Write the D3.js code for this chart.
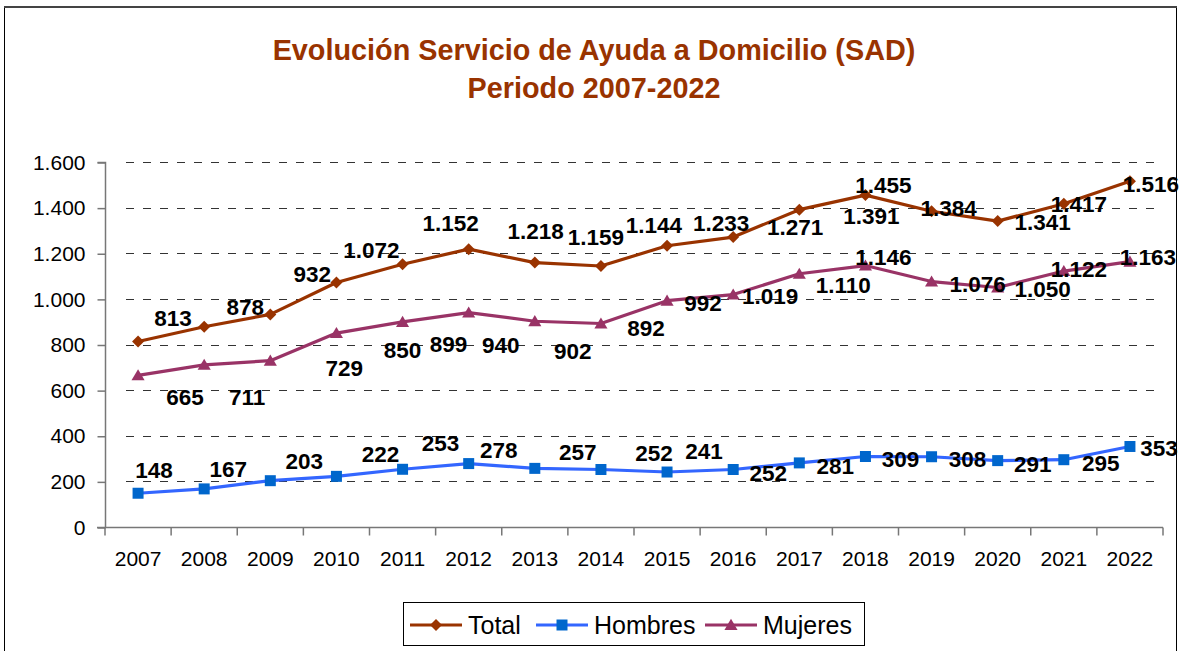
<!DOCTYPE html>
<html>
<head>
<meta charset="utf-8">
<script src="https://cdn.jsdelivr.net/npm/d3@7/dist/d3.min.js"></script>
<style>
  html, body { margin: 0; padding: 0; background: #fff; }
  svg { display: block; font-family: "Liberation Sans", Arial, sans-serif; }
</style>
</head>
<body>
<svg id="chart" width="1179" height="651"></svg>
<script>
// ---- Data ----
const years = ["2007","2008","2009","2010","2011","2012","2013","2014","2015","2016","2017","2018","2019","2020","2021","2022"];
const total   = [813, 878, 932, 1072, 1152, 1218, 1159, 1144, 1233, 1271, 1391, 1455, 1384, 1341, 1417, 1516];
const hombres = [148, 167, 203, 222, 253, 278, 257, 252, 241, 252, 281, 309, 308, 291, 295, 353];
const mujeres = [665, 711, 729, 850, 899, 940, 902, 892, 992, 1019, 1110, 1146, 1076, 1050, 1122, 1163];
const yTicks  = [0, 200, 400, 600, 800, 1000, 1200, 1400, 1600];
const seriesNames = ["Total", "Hombres", "Mujeres"];
const titleLines = ["Evolución Servicio de Ayuda a Domicilio (SAD)", "Periodo 2007-2022"];

// label nudges (pixels, relative to the point) as placed in the original
const totalNudge   = [[35,-24],[41,-20],[42,-40],[35,-33],[48,-41],[67,-18],[61,-26],[53,-41],[54,-23],[62,-10],[72,6],[18,-10],[17,-3],[45,1],[15,0],[21,3]];
const hombresNudge = [[16,-23],[24,-20],[34,-20],[44,-22],[38,-26],[30,-14],[43,-16],[53,-17],[37,-21],[35,3],[36,3],[35,2],[36,2],[35,3],[37,3],[29,1]];
const mujeresNudge = [[47,22],[43,32],[74,7],[66,17],[46,22],[32,32],[38,30],[45,4],[36,2],[37,1],[44,11],[18,-9],[46,2],[45,1],[15,-2],[18,-5]];

// ---- Setup ----
const svg = d3.select("#chart");
const fmt = v => d3.format(",")(v).replace(/,/g, ".");

const x = d3.scaleBand().domain(years).range([105, 1163]).padding(0);
const y = d3.scaleLinear().domain([0, 1600]).range([527, 162]);
const cx = d => x(d) + x.bandwidth() / 2;

// outer frame
svg.append("rect").attr("x", 4.5).attr("y", 7.5).attr("width", 1172).attr("height", 660)
  .attr("fill", "none").attr("stroke", "#000").attr("stroke-width", 1);
svg.append("line").attr("x1", 4).attr("x2", 1177).attr("y1", 7).attr("y2", 7)
  .attr("stroke", "#444").attr("stroke-width", 2);

// title
svg.append("g").selectAll("text").data(titleLines).join("text")
  .attr("x", 594).attr("y", (d, i) => 50 + i * 38).attr("dy", "0.35em")
  .attr("text-anchor", "middle").attr("font-weight", "bold").attr("font-size", 28.8)
  .attr("fill", "#993300").text(d => d);

// gridlines
svg.append("g").selectAll("line").data(yTicks.filter(t => t > 0)).join("line")
  .attr("x1", 126).attr("x2", 1162)
  .attr("y1", d => Math.round(y(d)) + 0.5).attr("y2", d => Math.round(y(d)) + 0.5)
  .attr("stroke", "#333").attr("stroke-width", 1).attr("stroke-dasharray", "8,9");

// y axis
const yAxis = d3.axisLeft(y).tickValues(yTicks).tickSize(8).tickPadding(12).tickFormat(fmt);
const gy = svg.append("g").attr("transform", "translate(105.5,0.5)").call(yAxis);
gy.select(".domain").attr("stroke", "#777").attr("stroke-width", 1.5).attr("d", "M-8," + y(1600) + "H0V" + y(0));
gy.selectAll(".tick line").attr("stroke", "#777").attr("stroke-width", 1.5);
gy.selectAll(".tick text").attr("font-size", 21).attr("fill", "#000")
  .attr("font-family", "Liberation Sans, Arial, sans-serif");

// x axis
const gx = svg.append("g").attr("transform", "translate(0," + (y(0) + 0.5) + ")");
gx.append("line").attr("x1", 97).attr("x2", 1163).attr("y1", 0).attr("y2", 0)
  .attr("stroke", "#777").attr("stroke-width", 1.5);
gx.selectAll("line.tk").data(years.concat(["end"])).join("line").attr("class", "tk")
  .attr("x1", (d, i) => i < years.length ? x(d) : x(years[years.length - 1]) + x.bandwidth())
  .attr("x2", (d, i) => i < years.length ? x(d) : x(years[years.length - 1]) + x.bandwidth())
  .attr("y1", 0).attr("y2", 8).attr("stroke", "#777").attr("stroke-width", 1.5);
gx.selectAll("text").data(years).join("text")
  .attr("x", d => cx(d)).attr("y", 31).attr("dy", "0.35em")
  .attr("text-anchor", "middle").attr("font-size", 21).attr("fill", "#000").text(d => d);

// marker shapes
const diamond = { draw(ctx, size) { const r = Math.sqrt(size) / 2 * Math.SQRT2; ctx.moveTo(0, -r); ctx.lineTo(r, 0); ctx.lineTo(0, r); ctx.lineTo(-r, 0); ctx.closePath(); } };
const tri = { draw(ctx, size) { const w = Math.sqrt(size) * 1.15, h = w * 0.85; ctx.moveTo(0, -h * 0.55); ctx.lineTo(w / 2, h * 0.45); ctx.lineTo(-w / 2, h * 0.45); ctx.closePath(); } };

// series
const series = [
  { name: "Total",   values: total,   nudge: totalNudge,   line: "#993300", marker: "#993300", shape: diamond,          size: 72 },
  { name: "Hombres", values: hombres, nudge: hombresNudge, line: "#3366FF", marker: "#0066CC", shape: d3.symbolSquare,   size: 121 },
  { name: "Mujeres", values: mujeres, nudge: mujeresNudge, line: "#993366", marker: "#993366", shape: tri,              size: 130 }
];

const lineGen = d3.line().x((d, i) => cx(years[i])).y(d => y(d));

series.forEach(s => {
  const g = svg.append("g");
  g.append("path").attr("d", lineGen(s.values)).attr("fill", "none")
    .attr("stroke", s.line).attr("stroke-width", 3.2).attr("stroke-linejoin", "round");
  g.selectAll("path.m").data(s.values).join("path").attr("class", "m")
    .attr("transform", (d, i) => "translate(" + cx(years[i]) + "," + y(d) + ")")
    .attr("d", d3.symbol().type(s.shape).size(s.size)).attr("fill", s.marker);
});

// labels on top
series.forEach(s => {
  svg.append("g").selectAll("text").data(s.values).join("text")
    .attr("x", (d, i) => cx(years[i]) + s.nudge[i][0])
    .attr("y", (d, i) => y(d) + s.nudge[i][1])
    .attr("dy", "0.36em").attr("text-anchor", "middle")
    .attr("font-weight", "bold").attr("font-size", 22.5).attr("fill", "#000")
    .text(d => fmt(d));
});

// legend
const lg = svg.append("g");
lg.append("rect").attr("x", 403.5).attr("y", 602.5).attr("width", 461).attr("height", 43)
  .attr("fill", "#fff").attr("stroke", "#000").attr("stroke-width", 1);
const legendX = [410, 536, 705];
series.forEach((s, i) => {
  const lx = legendX[i], ly = 625;
  lg.append("line").attr("x1", lx).attr("x2", lx + 52).attr("y1", ly).attr("y2", ly)
    .attr("stroke", s.line).attr("stroke-width", 3.2);
  lg.append("path").attr("transform", "translate(" + (lx + 26) + "," + ly + ")")
    .attr("d", d3.symbol().type(s.shape).size(s.size)).attr("fill", s.marker);
  lg.append("text").attr("x", lx + 58).attr("y", ly).attr("dy", "0.36em")
    .attr("font-size", 25).attr("fill", "#000").text(s.name);
});
</script>
</body>
</html>
